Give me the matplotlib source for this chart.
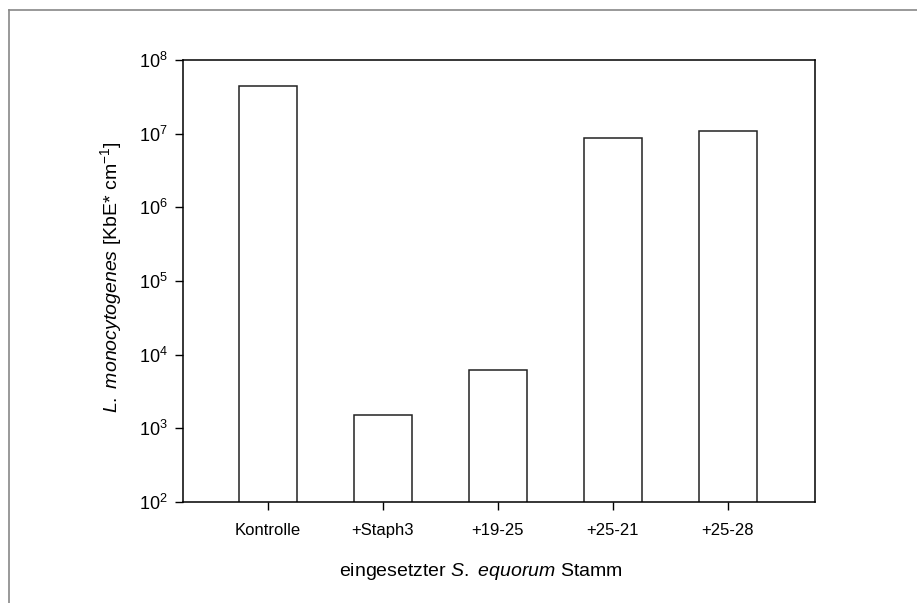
import matplotlib
matplotlib.use("Agg")
import matplotlib.pyplot as plt
from matplotlib.lines import Line2D

plt.rcParams['font.family'] = ['Liberation Sans', 'DejaVu Sans']
plt.rcParams['mathtext.fontset'] = 'custom'
plt.rcParams['mathtext.rm'] = 'Liberation Sans'
plt.rcParams['mathtext.it'] = 'Liberation Sans:italic'

# data
strains = ['Kontrolle', '+Staph3', '+19-25', '+25-21', '+25-28']
cfu = [4.4e7, 1.5e3, 6.2e3, 8.6e6, 1.1e7]
yticks = [1e2, 1e3, 1e4, 1e5, 1e6, 1e7, 1e8]

fig = plt.figure(figsize=(9.17, 6.03), dpi=100)
ax = fig.add_axes([183/917, 1-502/603, (815-183)/917, (502-60)/603])

x = range(len(strains))
ax.bar(x, cfu, width=0.5, color='white', edgecolor='#222222', linewidth=1.1)

ax.set_yscale('log')
ax.set_ylim(1e2, 1e8)
ax.set_yticks(yticks)
ax.yaxis.set_minor_locator(matplotlib.ticker.NullLocator())
ax.set_xlim(-0.739, 4.757)
ax.set_xticks(list(x))
ax.set_xticklabels(strains)
ax.tick_params(direction='out', length=6, width=1)
ax.tick_params(axis='y', labelsize=13, pad=5)
ax.tick_params(axis='x', labelsize=12, pad=9)
for s in ax.spines.values():
    s.set_linewidth(1.1)

ax.set_xlabel(r'eingesetzter $\mathit{S.}$ $\mathit{equorum}$ Stamm', fontsize=14, va='center')
ax.set_ylabel(r'$\mathit{L.}$ $\mathit{monocytogenes}$ [KbE* cm$^{-1}$]', fontsize=14, va='center')
ax.xaxis.set_label_coords((481-183)/632, -(572-502)/442)
ax.yaxis.set_label_coords(-(183-111)/632, 1-(277-60)/442)

# outer frame (top and left edges visible)
fig.add_artist(Line2D([9/917, 1], [1-10/603, 1-10/603], color='#888888', lw=1.2))
fig.add_artist(Line2D([9/917, 9/917], [0, 1-10/603], color='#888888', lw=1.2))

fig.savefig('out.png', dpi=100)
